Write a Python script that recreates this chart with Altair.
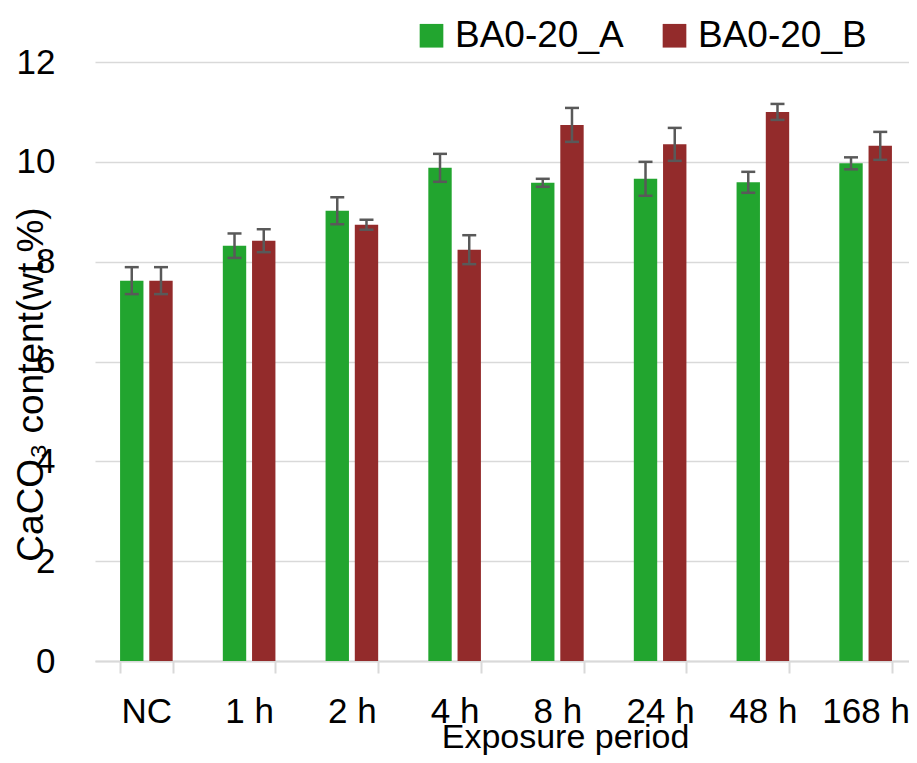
import altair as alt
import pandas as pd

categories = ["NC", "1 h", "2 h", "4 h", "8 h", "24 h", "48 h", "168 h"]
series_names = ["BA0-20_A", "BA0-20_B"]
values_a = [7.62, 8.32, 9.02, 9.88, 9.58, 9.66, 9.59, 9.97]
errors_a = [0.27, 0.245, 0.27, 0.28, 0.08, 0.34, 0.21, 0.12]
values_b = [7.62, 8.42, 8.74, 8.24, 10.74, 10.35, 11.0, 10.32]
errors_b = [0.27, 0.23, 0.10, 0.29, 0.34, 0.33, 0.16, 0.28]
y_ticks = [0, 2, 4, 6, 8, 10, 12]

rows = []
for cat, va, ea, vb, eb in zip(categories, values_a, errors_a, values_b, errors_b):
    rows.append({"cat": cat, "series": series_names[0], "value": va, "lo": va - ea, "hi": va + ea})
    rows.append({"cat": cat, "series": series_names[1], "value": vb, "lo": vb - eb, "hi": vb + eb})
df = pd.DataFrame(rows)

FONT = "Liberation Sans"
GREEN = "#22a52f"
RED = "#932b2b"
GRID = "#d9d9d9"
ERR = "#595959"
YTITLE = "CaCO₃ content(wt.%)"
XTITLE = "Exposure period"

xscale = alt.Scale(domain=categories, range=[0, 822], paddingInner=0.488, paddingOuter=0.244)
xaxis = alt.Axis(
    title=XTITLE, labelAngle=0, labelFontSize=35, labelColor="black", labelFont=FONT,
    labelPadding=21, tickSize=12, tickColor=GRID, tickWidth=2, tickBand="extent",
    domainColor=GRID, domainWidth=2, grid=False,
    titleFontSize=34, titleFontWeight="normal", titleColor="black", titleFont=FONT,
    titleX=470, titleY=86, titleAlign="center", titleBaseline="alphabetic",
)
yscale = alt.Scale(domain=[0, 12])
yaxis = alt.Axis(
    title=YTITLE, values=y_ticks, labelFontSize=35, labelColor="black", labelFont=FONT,
    labelPadding=40, tickSize=0, ticks=False, domain=False, grid=True,
    gridColor=GRID, gridWidth=1.5,
    titleFontSize=37, titleFontWeight="normal", titleColor="black", titleFont=FONT,
    titleAngle=270, titleX=-53, titleY=322, titleAlign="center", titleBaseline="alphabetic",
)
xoff = alt.XOffset("series:N", sort=series_names, scale=alt.Scale(paddingInner=0.2, paddingOuter=0))

base = alt.Chart(df)

bars = base.mark_bar().encode(
    x=alt.X("cat:N", scale=xscale, axis=xaxis, title=XTITLE),
    xOffset=xoff,
    y=alt.Y("value:Q", scale=yscale, axis=yaxis, title=YTITLE),
    color=alt.Color(
        "series:N",
        scale=alt.Scale(domain=series_names, range=[GREEN, RED]),
        legend=alt.Legend(
            title=None, orient="none", legendX=318, legendY=-45, direction="horizontal",
            symbolType="square", symbolSize=560, symbolStrokeWidth=0,
            labelFontSize=37, labelFont=FONT, labelColor="black", labelOffset=5,
            labelLimit=400, columnPadding=32, padding=0,
        ),
    ),
)

stems = base.mark_bar(size=2.5, color=ERR).encode(
    x=alt.X("cat:N", scale=xscale, title=XTITLE),
    xOffset=xoff,
    y=alt.Y("lo:Q", scale=yscale, title=YTITLE),
    y2="hi:Q",
)

caps_lo = base.mark_tick(size=14, thickness=2.5, color=ERR, opacity=1).encode(
    x=alt.X("cat:N", scale=xscale, title=XTITLE),
    xOffset=xoff,
    y=alt.Y("lo:Q", scale=yscale, title=YTITLE),
)
caps_hi = base.mark_tick(size=14, thickness=2.5, color=ERR, opacity=1).encode(
    x=alt.X("cat:N", scale=xscale, title=XTITLE),
    xOffset=xoff,
    y=alt.Y("hi:Q", scale=yscale, title=YTITLE),
)

chart = alt.layer(bars, stems, caps_lo, caps_hi).properties(
    width=814, height=599,
    autosize=alt.AutoSizeParams(type="none"),
    padding={"left": 87, "top": 54, "right": 0, "bottom": 94},
).configure(font=FONT).configure_view(stroke=None)

chart.save("out.html", embed_options={"renderer": "svg", "actions": False})
